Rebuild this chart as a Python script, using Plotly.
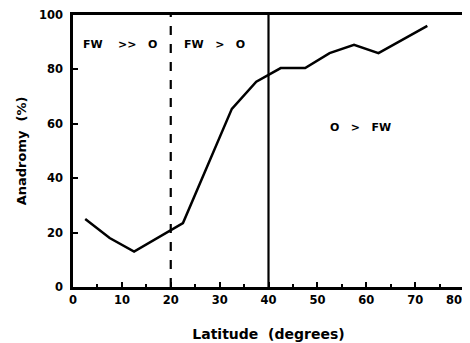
import plotly.graph_objects as go

latitude = [2.5, 7.5, 12.5, 22.5, 32.5, 37.5, 42.5, 47.5, 52.5, 57.5, 62.5, 72.5]
anadromy = [25, 18, 13, 23.5, 65.5, 75.5, 80.5, 80.5, 86, 89, 86, 96]
x_ticks = [0, 10, 20, 30, 40, 50, 60, 70, 80]
y_ticks = [0, 20, 40, 60, 80, 100]
boundaries = [20, 40]
boundary_styles = ["dash", "solid"]
NB = "\u00a0"
region_labels = ["FW" + NB * 4 + ">>" + NB * 3 + "O",
                 "FW" + NB * 3 + ">" + NB * 3 + "O",
                 "O" + NB * 3 + ">" + NB * 3 + "FW"]

FONT = "DejaVu Sans"

fig = go.Figure()
fig.add_trace(go.Scatter(x=latitude, y=anadromy, mode="lines",
                         line=dict(color="black", width=2.5), showlegend=False,
                         hoverinfo="skip"))

for b, st in zip(boundaries, boundary_styles):
    fig.add_shape(type="line", x0=b, x1=b, y0=0, y1=100, xref="x", yref="y",
                  line=dict(color="black", width=2.2, dash="dash" if st == "dash" else "solid"))

label_pos = [(9.7, 89), (28.9, 89), (58.8, 58.5)]
for txt, (lx, ly) in zip(region_labels, label_pos):
    fig.add_annotation(x=lx, y=ly, text=txt, showarrow=False,
                       font=dict(family=FONT, size=11, color="black", weight="bold"))

# last x tick label drawn as an annotation so that it stays inside the page
x_ticktext = [str(v) for v in x_ticks[:-1]] + [""]
fig.add_annotation(x=1, xref="paper", xanchor="right", y=0, yref="paper", yanchor="top",
                   yshift=-4, text=str(x_ticks[-1]), showarrow=False,
                   font=dict(family=FONT, size=11.5, color="black", weight="bold"))

fig.update_xaxes(range=[0, 80], tickvals=x_ticks, ticktext=x_ticktext,
                 ticks="inside", ticklen=5, tickwidth=2, tickcolor="black",
                 minor=dict(dtick=5, tick0=0, ticks="inside", ticklen=3, tickwidth=2, tickcolor="black"),
                 showline=True, linecolor="black", linewidth=2.5, mirror=True,
                 showgrid=False, zeroline=False, automargin=False,
                 tickfont=dict(family=FONT, size=11.5, color="black", weight="bold"),
                 title=dict(text="Latitude" + NB * 2 + "(degrees)", standoff=24,
                            font=dict(family=FONT, size=14, color="black", weight="bold")))
fig.update_yaxes(range=[0, 100], tickvals=y_ticks, ticktext=[str(v) for v in y_ticks],
                 ticks="inside", ticklen=5, tickwidth=2, tickcolor="black",
                 ticklabelstandoff=5, automargin=False,
                 showline=True, linecolor="black", linewidth=2.5, mirror=True,
                 showgrid=False, zeroline=False,
                 tickfont=dict(family=FONT, size=11.5, color="black", weight="bold"),
                 title=dict(text="Anadromy" + NB * 2 + "(%)", standoff=10,
                            font=dict(family=FONT, size=13, color="black", weight="bold")))

# page has an 8px default body margin, so the figure is 8px smaller than the window
fig.update_layout(width=462, height=335, margin=dict(l=65, r=6, t=7, b=56),
                  plot_bgcolor="white", paper_bgcolor="white")

fig.write_html("out.html")
